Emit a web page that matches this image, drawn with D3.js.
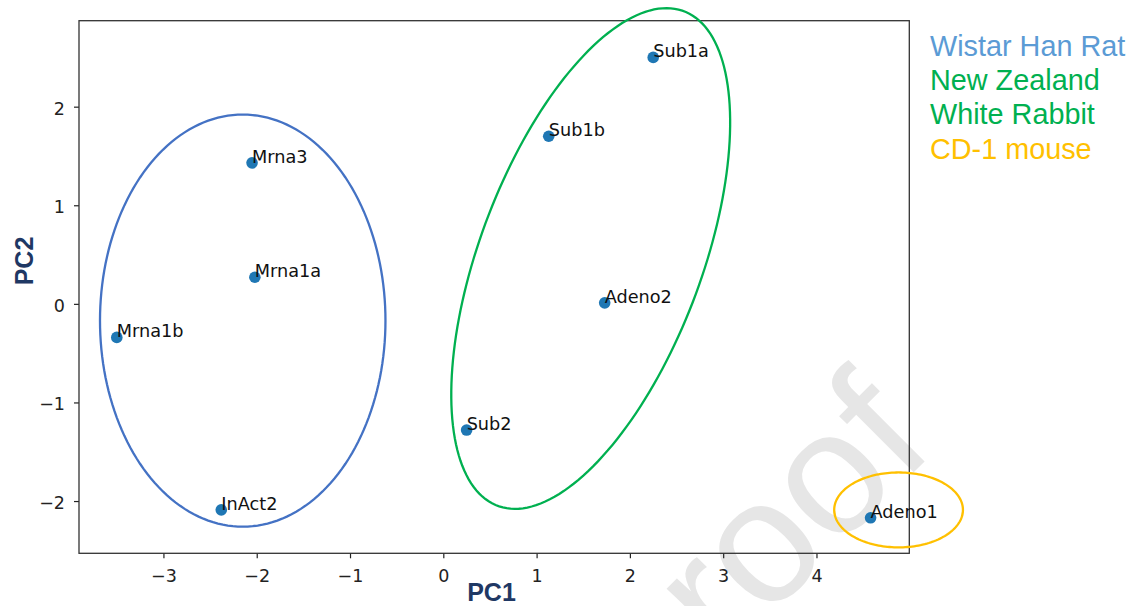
<!DOCTYPE html>
<html>
<head>
<meta charset="utf-8">
<script src="https://cdn.jsdelivr.net/npm/d3@7"></script>
<style>
  body { margin: 0; background: #ffffff; }
  svg { display: block; }
</style>
</head>
<body>
<svg id="chart" width="1136" height="606"></svg>
<script>
// PCA scores per sample
const samples = ["Mrna3", "Mrna1a", "Mrna1b", "InAct2", "Sub2", "Adeno2", "Sub1b", "Sub1a", "Adeno1"];
const pc1 = [-2.05, -2.02, -3.50, -2.38, 0.25, 1.73, 1.13, 2.25, 4.58];
const pc2 = [1.43, 0.27, -0.34, -2.09, -1.28, 0.01, 1.70, 2.50, -2.17];

const xTicks = [-3, -2, -1, 0, 1, 2, 3, 4];
const yTicks = [-2, -1, 0, 1, 2];

// Species groups: ellipse centre, semi-axes (PC units) and rotation in degrees
const groups = ["Wistar Han Rat", "New Zealand White Rabbit", "CD-1 mouse"];
const groupCx = [-2.15, 1.58, 4.88];
const groupCy = [-0.17, 0.46, -2.09];
const groupA = [1.53, 2.70, 0.69];
const groupB = [2.09, 1.18, 0.38];
const groupAngle = [0, 67.8, 0];

// Legend lines and the group each one belongs to
const legendLines = ["Wistar Han Rat", "New Zealand", "White Rabbit", "CD-1 mouse"];
const legendGroup = [0, 1, 1, 2];

const ellipseColor = ["#4472c4", "#00b050", "#ffc000"];
const legendColor = ["#5b9bd5", "#00b050", "#ffc000"];

const svg = d3.select("#chart");
const plot = { left: 79, right: 909.3, top: 20.7, bottom: 553.3 };

const x = d3.scaleLinear().domain([-3.905, 4.995]).range([plot.left, plot.right]);
const y = d3.scaleLinear().domain([-2.530, 2.872]).range([plot.bottom, plot.top]);

// Watermark
svg.append("text")
  .attr("transform", "translate(655,731) rotate(-45)")
  .attr("font-family", "'Liberation Sans', Arial, sans-serif")
  .attr("font-size", 175)
  .attr("fill", "#e6e6e6")
  .text("proof");

// Axes
const tickFont = "'DejaVu Sans', sans-serif";
const xAxis = svg.append("g")
  .attr("transform", `translate(0,${plot.bottom})`)
  .call(d3.axisBottom(x).tickValues(xTicks).tickSize(5).tickPadding(11.5).tickFormat(d3.format("d")));
const yAxis = svg.append("g")
  .attr("transform", `translate(${plot.left},0)`)
  .call(d3.axisLeft(y).tickValues(yTicks).tickSize(5).tickPadding(9).tickFormat(d3.format("d")));

[xAxis, yAxis].forEach(g => {
  g.select(".domain").remove();
  g.selectAll(".tick line").attr("stroke", "#222").attr("stroke-width", 1.2);
  g.selectAll(".tick text")
    .attr("font-family", tickFont)
    .attr("font-size", 17.5)
    .attr("fill", "#222");
});
yAxis.selectAll(".tick text").attr("dy", "0.43em");

// Frame
svg.append("rect")
  .attr("x", plot.left).attr("y", plot.top)
  .attr("width", plot.right - plot.left).attr("height", plot.bottom - plot.top)
  .attr("fill", "none").attr("stroke", "#333").attr("stroke-width", 1.3);

// Points
const idx = d3.range(samples.length);
svg.append("g").selectAll("circle").data(idx).join("circle")
  .attr("cx", i => x(pc1[i]))
  .attr("cy", i => y(pc2[i]))
  .attr("r", 5.8)
  .attr("fill", "#1f77b4");

// Sample labels
svg.append("g").selectAll("text").data(idx).join("text")
  .attr("x", i => x(pc1[i]))
  .attr("y", i => y(pc2[i]))
  .attr("font-family", tickFont)
  .attr("font-size", 17.7)
  .attr("fill", "#111")
  .text(i => samples[i]);

// Group ellipses, traced in PC space and mapped through the scales
const ellipseLine = d3.line().curve(d3.curveLinearClosed);
groups.forEach((g, k) => {
  const phi = groupAngle[k] * Math.PI / 180;
  const pts = d3.range(0, 360, 2).map(deg => {
    const t = deg * Math.PI / 180;
    const u = groupA[k] * Math.cos(t), v = groupB[k] * Math.sin(t);
    return [x(groupCx[k] + u * Math.cos(phi) - v * Math.sin(phi)),
            y(groupCy[k] + u * Math.sin(phi) + v * Math.cos(phi))];
  });
  svg.append("path")
    .attr("d", ellipseLine(pts))
    .attr("fill", "none")
    .attr("stroke", ellipseColor[k])
    .attr("stroke-width", 2.3);
});

// Axis titles
const titleFont = "'Liberation Sans', Arial, sans-serif";
svg.append("text")
  .attr("x", 491.5).attr("y", 601)
  .attr("text-anchor", "middle")
  .attr("font-family", titleFont).attr("font-weight", "bold")
  .attr("font-size", 25).attr("fill", "#1f3864")
  .text("PC1");
svg.append("text")
  .attr("transform", "translate(33,261) rotate(-90)")
  .attr("text-anchor", "middle")
  .attr("font-family", titleFont).attr("font-weight", "bold")
  .attr("font-size", 25).attr("fill", "#1f3864")
  .text("PC2");

// Legend
svg.append("g").selectAll("text").data(legendLines).join("text")
  .attr("x", 930)
  .attr("y", (d, i) => 56 + i * 34.2)
  .attr("font-family", titleFont)
  .attr("font-size", 28.8)
  .attr("fill", (d, i) => legendColor[legendGroup[i]])
  .text(d => d);
</script>
</body>
</html>
